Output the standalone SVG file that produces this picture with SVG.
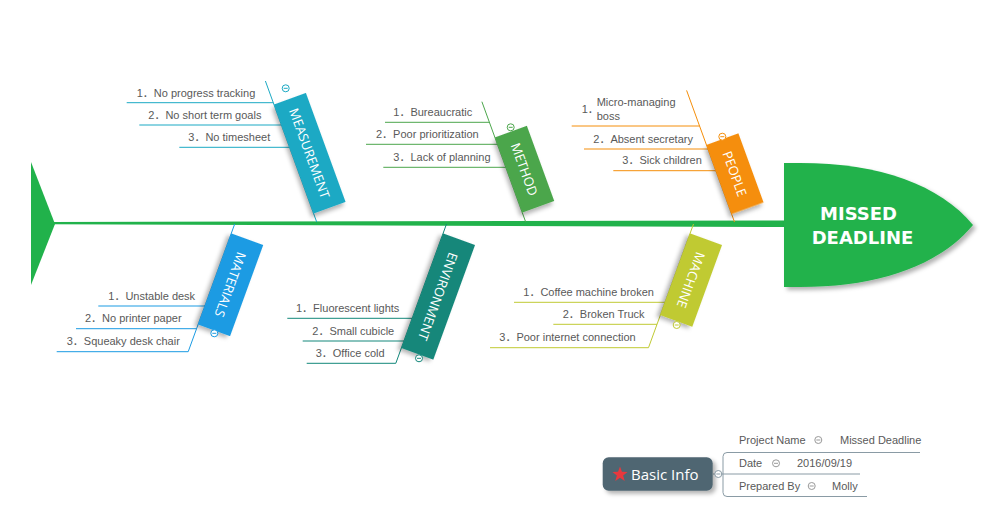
<svg xmlns="http://www.w3.org/2000/svg" width="1000" height="517" viewBox="0 0 1000 517">
<defs>
<filter id="sh" x="-30%" y="-30%" width="160%" height="160%">
<feDropShadow dx="3" dy="3" stdDeviation="2" flood-color="#000" flood-opacity="0.3"/>
</filter>
<style>
.it{font-family:"Liberation Sans","Noto Sans CJK SC",sans-serif;font-size:11px;fill:#595959}
.lb{font-family:"Open Sans","Liberation Sans",sans-serif;font-size:13px;fill:#fff;text-anchor:middle;dominant-baseline:central}
.hd{font-family:"DejaVu Sans",sans-serif;font-weight:bold;font-size:18px;fill:#fff;text-anchor:middle}
.bi{font-family:"Liberation Sans","Noto Sans CJK SC",sans-serif;font-size:11px;fill:#595959}
.cb{fill:#fff;stroke-width:1}
.ln{fill:none;stroke-width:1}
.meas{stroke:#1BA9C4}
.meth{stroke:#4CA64C}
.peop{stroke:#F58E0A}
.matr{stroke:#1A9BE3}
.envr{stroke:#12877A}
.mach{stroke:#C0CA33}
</style>
</defs>
<rect width="1000" height="517" fill="#fff"/>

<g id="spine">
<polygon points="31,162 55,224 31,285" fill="#21B24B"/>
<polygon points="50,222 785,220.5 785,227 50,224.2" fill="#21B24B"/>
</g>

<g id="head">
<path d="M784,163 L800,163 C880,163 940,185 973,225 C940,265 880,287 800,287 L784,287 Z" fill="#21B24B" filter="url(#sh)"/>
<text class="hd" x="858.5" y="220">MISSED</text>
<text class="hd" x="862.5" y="244">DEADLINE</text>
</g>

<g id="connectors">
<!-- MEASUREMENT -->
<line class="ln meas" x1="316.7" y1="222" x2="265.4" y2="81"/>
<polyline class="ln meas" points="126.7,102.7 273.3,102.7"/>
<polyline class="ln meas" points="139.3,125 281.4,125"/>
<polyline class="ln meas" points="179.3,147.3 289.5,147.3"/>
<!-- METHOD -->
<line class="ln meth" x1="525.7" y1="222" x2="481.9" y2="101.7"/>
<polyline class="ln meth" points="385,122.3 489.4,122.3"/>
<polyline class="ln meth" points="366,144.3 497.4,144.3"/>
<polyline class="ln meth" points="383.3,167.3 505.8,167.3"/>
<!-- PEOPLE -->
<line class="ln peop" x1="734.5" y1="222" x2="686.6" y2="90.4"/>
<polyline class="ln peop" points="571.7,126 699.6,126"/>
<polyline class="ln peop" points="584,149 707.9,149"/>
<polyline class="ln peop" points="613.3,170.7 715.8,170.7"/>
<!-- MATERIALS -->
<line class="ln matr" x1="234.7" y1="224" x2="188.2" y2="351.7"/>
<polyline class="ln matr" points="98.3,306 204.9,306"/>
<polyline class="ln matr" points="76,328.7 196.6,328.7"/>
<polyline class="ln matr" points="56.7,351.7 188.2,351.7"/>
<!-- ENVIRONMENT -->
<line class="ln envr" x1="446.5" y1="224" x2="395.8" y2="363.3"/>
<polyline class="ln envr" points="287.3,318.3 412.2,318.3"/>
<polyline class="ln envr" points="302.7,341 403.9,341"/>
<polyline class="ln envr" points="306.7,363.3 395.8,363.3"/>
<!-- MACHINE -->
<line class="ln mach" x1="693.5" y1="224" x2="648.5" y2="347.7"/>
<polyline class="ln mach" points="514,302.3 665,302.3"/>
<polyline class="ln mach" points="553.3,324.3 657,324.3"/>
<polyline class="ln mach" points="490,347.7 648.5,347.7"/>
<!-- Basic info -->
<path class="ln" stroke="#8A9BA5" d="M920,452.5 L727,452.5 Q723,452.5 723,456.5 L723,492.5 Q723,496.5 727,496.5 L867,496.5"/>
<line class="ln" stroke="#8A9BA5" x1="713" y1="474" x2="860" y2="474"/>
</g>

<g id="measurement">
<g transform="translate(316.7,222) rotate(70)">
<rect x="-125" y="-34" width="116" height="34" fill="#1BA9C4" filter="url(#sh)"/>
<text class="lb" x="-67" y="-17">MEASUREMENT</text>
</g>
<circle class="cb meas" cx="285.7" cy="88.3" r="3.5"/><line class="ln meas" x1="283.7" y1="88.3" x2="287.7" y2="88.3"/>
<text class="it" x="136.7" y="96.5">1．No progress tracking</text>
<text class="it" x="148.3" y="118.8">2．No short term goals</text>
<text class="it" x="188.3" y="141">3．No timesheet</text>
</g>

<g id="method">
<g transform="translate(525.7,222) rotate(70)">
<rect x="-90" y="-34" width="80" height="34" fill="#4CA64C" filter="url(#sh)"/>
<text class="lb" x="-50" y="-17">METHOD</text>
</g>
<circle class="cb meth" cx="510.7" cy="127.3" r="3.5"/><line class="ln meth" x1="508.7" y1="127.3" x2="512.7" y2="127.3"/>
<text class="it" x="393.3" y="116">1．Bureaucratic</text>
<text class="it" x="376" y="138">2．Poor prioritization</text>
<text class="it" x="393.3" y="161">3．Lack of planning</text>
</g>

<g id="people">
<g transform="translate(734.5,222) rotate(70)">
<rect x="-82" y="-34" width="73.5" height="34" fill="#F58E0A" filter="url(#sh)"/>
<text class="lb" x="-45.25" y="-17">PEOPLE</text>
</g>
<circle class="cb peop" cx="722.3" cy="136.7" r="3.5"/><line class="ln peop" x1="720.3" y1="136.7" x2="724.3" y2="136.7"/>
<text class="it" x="581.7" y="113">1．</text>
<text class="it" x="596.7" y="106">Micro-managing</text>
<text class="it" x="596.7" y="119.5">boss</text>
<text class="it" x="593.3" y="142.5">2．Absent secretary</text>
<text class="it" x="622.3" y="164.2">3．Sick children</text>
</g>

<g id="materials">
<g transform="translate(234.7,224) rotate(110)">
<rect x="10" y="-34" width="97" height="34" fill="#1A9BE3" filter="url(#sh)"/>
<text class="lb" x="58.5" y="-17">MATERIALS</text>
</g>
<circle class="cb matr" cx="214.3" cy="333.3" r="3.5"/><line class="ln matr" x1="212.3" y1="333.3" x2="216.3" y2="333.3"/>
<text class="it" x="108.3" y="299.5">1．Unstable desk</text>
<text class="it" x="85" y="322.2">2．No printer paper</text>
<text class="it" x="66.7" y="345.2">3．Squeaky desk chair</text>
</g>

<g id="environment">
<g transform="translate(446.5,224) rotate(110)">
<rect x="10" y="-34" width="122" height="34" fill="#12877A" filter="url(#sh)"/>
<text class="lb" x="71" y="-17">ENVIRONMENT</text>
</g>
<circle class="cb envr" cx="419" cy="358.3" r="3.5"/><line class="ln envr" x1="417" y1="358.3" x2="421" y2="358.3"/>
<text class="it" x="296" y="311.8">1．Fluorescent lights</text>
<text class="it" x="312.3" y="334.5">2．Small cubicle</text>
<text class="it" x="315.7" y="356.8">3．Office cold</text>
</g>

<g id="machine">
<g transform="translate(693.5,224) rotate(110)">
<rect x="10" y="-34" width="87" height="34" fill="#C0CA33" filter="url(#sh)"/>
<text class="lb" x="53.5" y="-17">MACHINE</text>
</g>
<circle class="cb mach" cx="676.7" cy="325" r="3.5"/><line class="ln mach" x1="674.7" y1="325" x2="678.7" y2="325"/>
<text class="it" x="523.3" y="295.8">1．Coffee machine broken</text>
<text class="it" x="562.7" y="317.8">2．Broken Truck</text>
<text class="it" x="499.3" y="341.2">3．Poor internet connection</text>
</g>

<g id="basic-info">
<rect x="602.7" y="457.3" width="110" height="33.4" rx="6" fill="#4F6672" filter="url(#sh)"/>
<polygon points="620,466.5 621.94,471.83 627.61,472.03 623.14,475.52 624.7,480.97 620,477.8 615.3,480.97 616.86,475.52 612.39,472.03 618.06,471.83" fill="#E8383D"/>
<text x="631" y="479.5" font-family="'Open Sans','Liberation Sans',sans-serif" font-size="15" fill="#fff">Basic Info</text>
<circle cx="718.3" cy="474" r="3.5" fill="#fff" stroke="#8A9BA5"/>
<line x1="716.3" y1="474" x2="720.3" y2="474" stroke="#8A9BA5"/>
</g>

<g id="info-project">
<text class="bi" x="739" y="444">Project Name</text>
<circle cx="818.3" cy="440" r="3.5" fill="#fff" stroke="#999"/>
<line x1="816.3" y1="440" x2="820.3" y2="440" stroke="#999"/>
<text class="bi" x="840" y="444">Missed Deadline</text>
</g>
<g id="info-date">
<text class="bi" x="739" y="467">Date</text>
<circle cx="776" cy="463.3" r="3.5" fill="#fff" stroke="#999"/>
<line x1="774" y1="463.3" x2="778" y2="463.3" stroke="#999"/>
<text class="bi" x="797" y="467">2016/09/19</text>
</g>
<g id="info-prepared">
<text class="bi" x="739" y="490">Prepared By</text>
<circle cx="811.7" cy="486" r="3.5" fill="#fff" stroke="#999"/>
<line x1="809.7" y1="486" x2="813.7" y2="486" stroke="#999"/>
<text class="bi" x="832" y="490">Molly</text>
</g>
</svg>
